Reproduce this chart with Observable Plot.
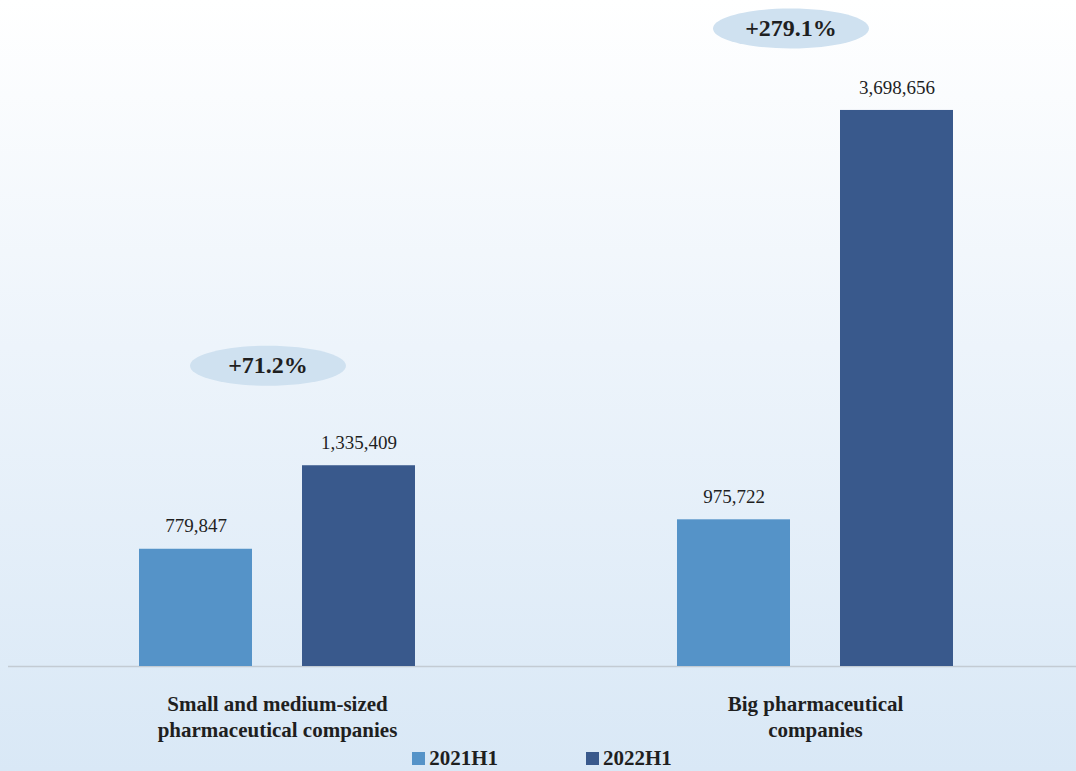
<!DOCTYPE html>
<html>
<head>
<meta charset="utf-8">
<script src="https://cdn.jsdelivr.net/npm/d3@7"></script>
<script src="https://cdn.jsdelivr.net/npm/@observablehq/plot@0.6"></script>
<style>
  html, body { margin: 0; padding: 0; }
  #chart {
    width: 1076px; height: 771px; overflow: hidden;
    background: linear-gradient(to bottom, #ffffff 0%, #edf4fb 45%, #d9e8f6 100%);
    font-family: "Liberation Serif", "Times New Roman", serif;
    color: #1f1f1f;
  }
  #chart svg { display: block; background: transparent; }
  .legend { display: flex; justify-content: center; gap: 88px; height: 26px; align-items: center;
    font-weight: bold; font-size: 21px; margin-left: 8px; }
  .legend span.item { display: flex; align-items: center; gap: 4px; }
  .legend span.sw { width: 13px; height: 13px; display: inline-block; }
</style>
</head>
<body>
<div id="chart"></div>
<script>
// Company groups (axis labels, with line breaks) and half-year series
const groups = ["Small and medium-sized\npharmaceutical companies", "Big pharmaceutical\ncompanies"];
const series = ["2021H1", "2022H1"];
const values2021 = [779847, 975722];
const values2022 = [1335409, 3698656];
const growth = ["+71.2%", "+279.1%"];
const colors = ["#5593c8", "#39598c"];

const rows = groups.flatMap((g, i) => [
  {group: g, series: series[0], value: values2021[i]},
  {group: g, series: series[1], value: values2022[i]}
]);
const growthRows = groups.map((g, i) => ({
  group: g,
  series: series[1],
  value: Math.max(values2021[i], values2022[i]),
  label: growth[i]
}));

// Flat ellipse used as the bubble behind each growth label
const ellipse = {
  draw(ctx) {
    const rx = 78, ry = 20, k = 0.5523;
    ctx.moveTo(rx, 0);
    ctx.bezierCurveTo(rx, ry * k, rx * k, ry, 0, ry);
    ctx.bezierCurveTo(-rx * k, ry, -rx, ry * k, -rx, 0);
    ctx.bezierCurveTo(-rx, -ry * k, -rx * k, -ry, 0, -ry);
    ctx.bezierCurveTo(rx * k, -ry, rx, -ry * k, rx, 0);
    ctx.closePath();
  }
};

const fmt = d3.format(",");
const serif = "Liberation Serif, Times New Roman, serif";

const bubble = (row, dx, dy) => [
  Plot.dot([row], {fx: "group", x: "series", y: "value", symbol: ellipse, r: 5,
    fill: "#cfe1f0", stroke: "none", dx, dy}),
  Plot.text([row], {fx: "group", x: "series", y: "value", text: "label", dx, dy,
    fontSize: 24, fontWeight: "bold", fill: "#1f1f1f", fontFamily: serif})
];

const plot = Plot.plot({
  width: 1076,
  height: 745,
  marginTop: 0,
  marginBottom: 79,
  marginLeft: 0,
  marginRight: 0,
  style: {fontFamily: serif, background: "transparent", overflow: "visible"},
  fx: {domain: groups, range: [8, 1084], padding: 0, label: null},
  x: {domain: series, paddingInner: 0.307, paddingOuter: 0.8, axis: null},
  y: {domain: [0, 4430000], axis: null},
  color: {domain: series, range: colors},
  marks: [
    Plot.ruleY([0], {stroke: "#c3cbd3", strokeWidth: 1.5}),
    Plot.barY(rows, {fx: "group", x: "series", y: "value", fill: "series"}),
    Plot.text(rows, {fx: "group", x: "series", y: "value", text: d => fmt(d.value),
      dy: -23, fontSize: 19, fill: "#1f1f1f", fontFamily: serif}),
    ...bubble(growthRows[0], -91, -100),
    ...bubble(growthRows[1], -106, -82),
    Plot.axisFx({anchor: "bottom", tickSize: 0, tickPadding: 26, fontSize: 21,
      fontWeight: "bold", lineHeight: 1.25, label: null, fill: "#1f1f1f"})
  ]
});

const root = document.getElementById("chart");
root.appendChild(plot);

const legend = document.createElement("div");
legend.className = "legend";
series.forEach((s, i) => {
  const item = document.createElement("span");
  item.className = "item";
  const sw = document.createElement("span");
  sw.className = "sw";
  sw.style.background = colors[i];
  item.appendChild(sw);
  item.appendChild(document.createTextNode(s));
  legend.appendChild(item);
});
root.appendChild(legend);
</script>
</body>
</html>
